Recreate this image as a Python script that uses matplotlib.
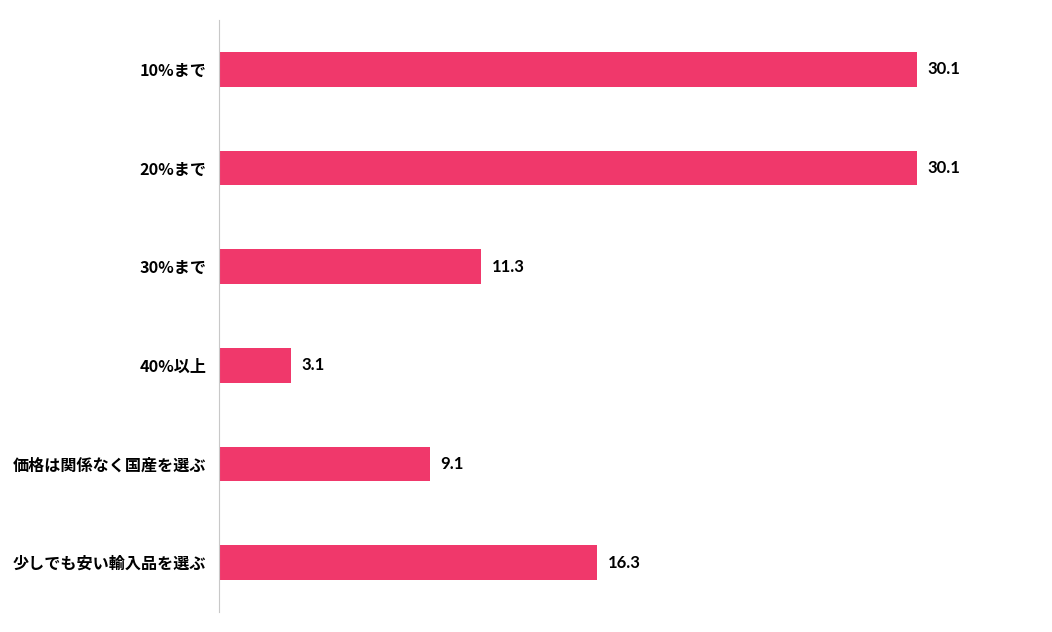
import matplotlib.pyplot as plt

plt.rcParams['font.family'] = ['Noto Sans CJK JP', 'DejaVu Sans']

# データ
categories = ["10%まで", "20%まで", "30%まで", "40%以上", "価格は関係なく国産を選ぶ", "少しでも安い輸入品を選ぶ"]
values = [30.1, 30.1, 11.3, 3.1, 9.1, 16.3]

fig = plt.figure(figsize=(10.52, 6.32), dpi=100)
ax = fig.add_axes([219 / 1052, 20 / 632, (1040 - 219) / 1052, 592 / 632])

y = list(range(len(categories)))
ax.barh(y, values, height=0.35, color="#f0386b")

# 値ラベル
for yi, v in zip(y, values):
    ax.text(v + 0.45, yi, f"{v:.1f}", va="center", ha="left", fontsize=12, fontweight="bold",
            family=["Lato", "DejaVu Sans"])

ax.set_xlim(0, 35.4)
ax.set_ylim(len(categories) - 0.5, -0.5)
ax.set_yticks(y)
ax.set_yticklabels(categories, fontsize=11.6, fontweight="bold")
ax.tick_params(axis="y", length=0, pad=9)
ax.set_xticks([])

for s in ["top", "right", "bottom"]:
    ax.spines[s].set_visible(False)
ax.spines["left"].set_color("#c8c8c8")

fig.savefig("out.png", dpi=100)
